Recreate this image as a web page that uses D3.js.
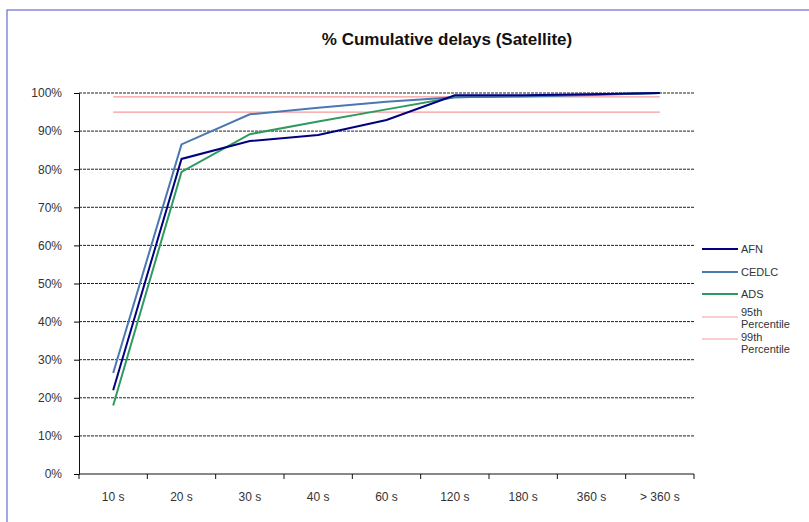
<!DOCTYPE html>
<meta charset="utf-8">
<style>
 body { margin: 0; background: #fff; }
 text { font-family: "Liberation Sans", Arial, sans-serif; }
 #title_text { font-size: 17px; font-weight: bold; fill: #111; }
 .tick_text { font-size: 12px; fill: #333; }
 .legend_text { font-size: 11px; fill: #333; }
</style>
<body>
<script src="https://d3js.org/d3.v7.min.js"></script>
<script>

var width = 809
var height = 522

var categories = ["10 s", "20 s", "30 s", "40 s", "60 s", "120 s", "180 s", "360 s", "> 360 s"];
var afn   = [0.22, 0.827, 0.874, 0.890, 0.929, 0.994, 0.994, 0.997, 1.0];
var cedlc = [0.265, 0.865, 0.944, 0.961, 0.977, 0.989, 0.991, 0.995, 1.0];
var ads   = [0.18, 0.793, 0.892, 0.925, 0.957, 0.989, 0.992, 0.996, 1.0];
var p95   = [0.95, 0.95, 0.95, 0.95, 0.95, 0.95, 0.95, 0.95, 0.95];
var p99   = [0.99, 0.99, 0.99, 0.99, 0.99, 0.99, 0.99, 0.99, 0.99];
var yTicks = [0, 0.1, 0.2, 0.3, 0.4, 0.5, 0.6, 0.7, 0.8, 0.9, 1.0];

var series = [
  {name: "AFN", values: afn, color: "#000080", w: 2},
  {name: "CEDLC", values: cedlc, color: "#4a78b0", w: 2},
  {name: "ADS", values: ads, color: "#2e9a5e", w: 2},
  {name: "95th Percentile", values: p95, color: "#f59a9a", w: 1.2},
  {name: "99th Percentile", values: p99, color: "#f59a9a", w: 1.2}
];

var svg = d3.select("body")
  .append("svg")
  .attr("width", width)
  .attr("height", height);

// outer chart frame
svg.append("rect")
  .attr("x", 7).attr("y", 10)
  .attr("width", 820).attr("height", 530)
  .attr("fill", "none")
  .attr("stroke", "#6b6bd6")
  .attr("stroke-width", 1.2);

svg.append("text")
  .attr("id", "title_text")
  .attr("text-anchor", "middle")
  .attr("x", 447)
  .attr("y", 45)
  .text("% Cumulative delays (Satellite)");

var x = d3.scaleBand().domain(categories).range([79, 694]);
var y = d3.scaleLinear().domain([0, 1]).range([474, 93]);
var cx = function (c) { return x(c) + x.bandwidth() / 2; };

// gridlines
svg.selectAll(".grid")
  .data(yTicks.filter(function (d) { return d > 0; }))
  .enter().append("line")
  .attr("x1", 79).attr("x2", 694)
  .attr("y1", function (d) { return y(d); })
  .attr("y2", function (d) { return y(d); })
  .attr("stroke", "#222")
  .attr("stroke-width", 1)
  .attr("stroke-dasharray", "3,1");

// y axis
var yAxis = d3.axisLeft(y).tickValues(yTicks).tickFormat(d3.format(".0%")).tickSize(5).tickPadding(12);
var gy = svg.append("g").attr("transform", "translate(79,0)").call(yAxis);
gy.select(".domain").attr("stroke", "#111");
gy.selectAll("text").attr("class", "tick_text").attr("font-family", null).attr("font-size", null);

// x axis
var gx = svg.append("g").attr("transform", "translate(0,474)").call(
  d3.axisBottom(x).tickSize(0).tickPadding(18));
gx.select(".domain").attr("stroke", "#111").attr("d", "M79,0H694");
gx.selectAll("text").attr("class", "tick_text").attr("font-family", null).attr("font-size", null);
gx.selectAll(".bound")
  .data(d3.range(categories.length + 1))
  .enter().append("line")
  .attr("x1", function (i) { return 79 + i * x.bandwidth(); })
  .attr("x2", function (i) { return 79 + i * x.bandwidth(); })
  .attr("y1", 0).attr("y2", 5)
  .attr("stroke", "#111");

// lines
var line = d3.line()
  .x(function (d, i) { return cx(categories[i]); })
  .y(function (d) { return y(d); });

series.slice().reverse().forEach(function (s) {
  svg.append("path")
    .datum(s.values)
    .attr("d", line)
    .attr("fill", "none")
    .attr("stroke", s.color)
    .attr("stroke-width", s.w);
});

// legend
var legendY = [249, 272, 294, 317, 339];
var textY = [253, 276, 298, 316, 341];
series.forEach(function (s, i) {
  svg.append("line")
    .attr("x1", 702).attr("x2", 738)
    .attr("y1", legendY[i]).attr("y2", legendY[i])
    .attr("stroke", s.color)
    .attr("stroke-width", s.w);
  var parts = s.name.split(" ");
  var t = svg.append("text").attr("class", "legend_text")
    .attr("x", 741).attr("y", textY[i]);
  parts.forEach(function (p, j) {
    t.append("tspan").attr("x", 741).attr("dy", j === 0 ? 0 : 11.5).text(p);
  });
});

</script>
</body>
